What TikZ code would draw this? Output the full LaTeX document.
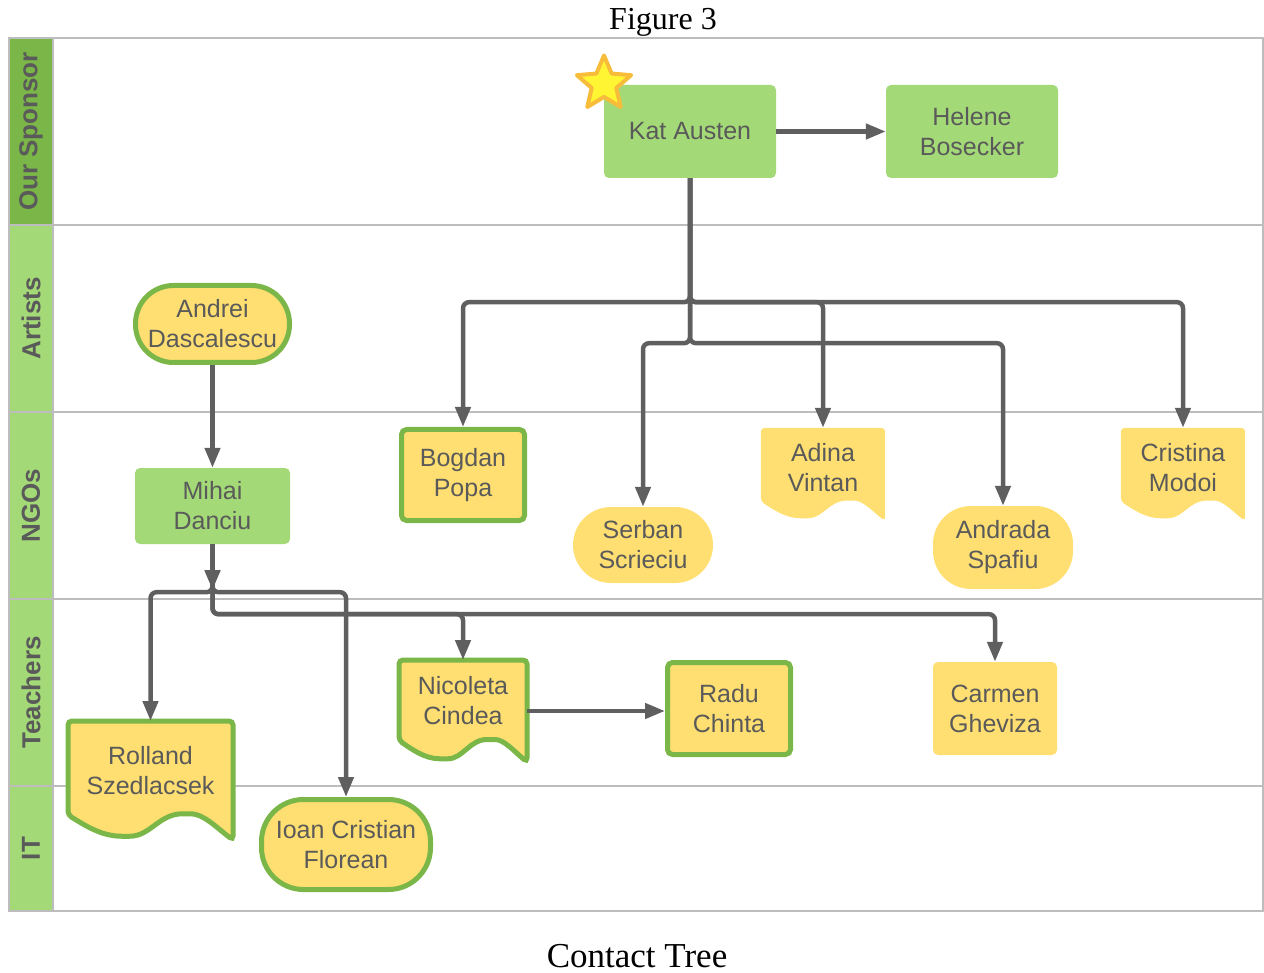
\documentclass[tikz,border=0pt]{standalone}
\usepackage{fontspec}
\setmainfont{Liberation Sans}
\newfontfamily\titlefont{Liberation Serif}
\usetikzlibrary{arrows.meta,shapes.geometric,calc,decorations.markings}
\definecolor{leaf}{HTML}{A3D977}
\definecolor{moss}{HTML}{7AB648}
\definecolor{butter}{HTML}{FFDF71}
\definecolor{ink}{HTML}{5A5A5A}
\definecolor{wire}{HTML}{5F5F5F}
\definecolor{grid}{HTML}{BDBDBD}
\definecolor{starfill}{HTML}{FFF533}
\definecolor{staredge}{HTML}{F8BC3B}
\pgfdeclarelayer{lanes}
\pgfdeclarelayer{shapes}
\pgfsetlayers{lanes,shapes,main}
\tikzset{
  person/.style={align=center, text=ink, font=\fontsize{25}{30}\selectfont, inner sep=0pt},
  sponsor/.style={person, fill=leaf, rounded corners=5pt},
  contact/.style={person, fill=butter, rounded corners=5pt},
  stadium/.style={person, fill=butter, rounded corners=38pt},
  known/.style={draw=moss, line width=5pt},
  docbox/.style={inner sep=0pt},
  link/.style={draw=wire, line width=4.5pt, rounded corners=6pt, -{Triangle[length=20pt,width=15pt]}},
  midtip/.style={postaction={decorate}, decoration={markings, mark=at position 46pt with {\arrow{Triangle[length=20pt,width=15pt]}}}},
  lane/.style={font=\bfseries\fontsize{26}{30}\selectfont, text=ink, rotate=90},
}
\newcommand\docshape[2]{%
  \begin{pgfonlayer}{shapes}
    \path[rounded corners=4pt, #2] let \p1=(#1.south west), \p2=(#1.north east),
      \n1={\x2-\x1}, \n2={0.21*(\y2-\y1)} in
      (\x1,{\y1+\n2}) -- (\x1,\y2) -- (\x2,\y2) -- (\x2,\y1)
      .. controls ({\x2-0.1*\n1},{\y1+0.5*\n2}) and ({\x2-0.18*\n1},{\y1+1.05*\n2}) .. ({\x1+0.72*\n1},{\y1+1.05*\n2})
      .. controls ({\x1+0.55*\n1},{\y1+1.05*\n2}) and ({\x1+0.5*\n1},{\y1+0.15*\n2}) .. ({\x1+0.35*\n1},{\y1+0.15*\n2})
      .. controls ({\x1+0.2*\n1},{\y1+0.15*\n2}) and ({\x1+0.1*\n1},{\y1+0.6*\n2}) .. cycle;
  \end{pgfonlayer}}
\begin{document}
\begin{tikzpicture}[x=1pt, y=-1pt]
    \useasboundingbox (0,0) rectangle (1264,973);

    \begin{pgfonlayer}{lanes}
        \fill[moss] (9,38) rectangle (53,225);
        \fill[leaf] (9,225) rectangle (53,911);
        \draw[grid, line width=1.5pt] (9,38) rectangle (1263,911);
        \foreach \y in {225,412,599,786}
            \draw[grid, line width=1.5pt] (9,\y) -- (1263,\y);
        \draw[grid, line width=1.5pt] (53,38) -- (53,911);
    \end{pgfonlayer}

    \node[lane] (sponsorlane) at (31,131.5) {Our Sponsor};
    \node[lane] (artistlane) at (31,318.5) {Artists};
    \node[lane] (ngolane) at (31,505.5) {NGOs};
    \node[lane] (teacherlane) at (31,692.5) {Teachers};
    \node[lane] (itlane) at (31,848.5) {IT};

    \node[font=\titlefont\fontsize{32}{36}\selectfont] (title) at (663,22) {Figure 3};
    \node[font=\titlefont\fontsize{35}{40}\selectfont] (caption) at (637,956) {Contact Tree};

    \node[sponsor, minimum width=172pt, minimum height=93pt] (kat) at (690,131.5) {Kat Austen};
    \node[sponsor, minimum width=172pt, minimum height=93pt] (helene) at (972,131.5) {Helene\\Bosecker};
    \node[star, star points=5, star point ratio=2.2, minimum size=57pt, inner sep=0pt,
          fill=starfill, draw=staredge, line width=4pt, line join=round] (star) at (604,84) {};

    \node[stadium, known, minimum width=154pt, minimum height=77pt] (andrei) at (212.5,324) {Andrei\\Dascalescu};
    \node[sponsor, minimum width=155pt, minimum height=76pt] (mihai) at (212.5,506) {Mihai\\Danciu};
    \node[contact, known, minimum width=123pt, minimum height=91pt] (bogdan) at (463,475) {Bogdan\\Popa};
    \node[stadium, minimum width=140pt, minimum height=76pt] (serban) at (643,545) {Serban\\Scrieciu};
    \node[stadium, minimum width=140pt, minimum height=83pt] (andrada) at (1003,547.5) {Andrada\\Spafiu};
    \node[stadium, known, rounded corners=42pt, minimum width=169pt, minimum height=90pt] (ioan) at (346,844.5) {Ioan Cristian\\Florean};
    \node[contact, known, minimum width=123pt, minimum height=92pt] (radu) at (729,708.5) {Radu\\Chinta};
    \node[contact, minimum width=124pt, minimum height=93pt] (carmen) at (995,708.5) {Carmen\\Gheviza};

    \node[docbox, minimum width=124pt, minimum height=93pt, label={[person, yshift=7pt]center:Adina\\Vintan}] (adina) at (823,474.5) {};
    \node[docbox, minimum width=124pt, minimum height=93pt, label={[person, yshift=7pt]center:Cristina\\Modoi}] (cristina) at (1183,474.5) {};
    \node[docbox, outer sep=2.5pt, minimum width=123pt, minimum height=97pt, label={[person, yshift=10pt]center:Nicoleta\\Cindea}] (nicoleta) at (463,711) {};
    \node[docbox, outer sep=2.5pt, minimum width=160pt, minimum height=114pt, label={[person, yshift=9.5pt]center:Rolland\\Szedlacsek}] (rolland) at (150.5,780.5) {};
    \docshape{adina}{fill=butter}
    \docshape{cristina}{fill=butter}
    \docshape{nicoleta}{fill=butter, draw=moss, line width=5pt}
    \docshape{rolland}{fill=butter, draw=moss, line width=5pt}

    \draw[link] (kat.east) -- (helene.west);
    \draw[link] (kat.south) -- ++(0,124) -| (bogdan.north);
    \draw[link] (kat.south) -- ++(0,124) -| (adina.north);
    \draw[link] (kat.south) -- ++(0,124) -| (cristina.north);
    \draw[link] (kat.south) -- ++(0,165) -| (serban.north);
    \draw[link] (kat.south) -- ++(0,165) -| (andrada.north);

    \draw[link] (andrei.south) -- (mihai.north);
    \draw[link] (mihai.south) -- ++(0,48) -| (rolland.north);
    \draw[link] (mihai.south) -- ++(0,48) -| (ioan.north);
    \draw[link, midtip] (mihai.south) -- ++(0,70) -| (nicoleta.north);
    \draw[link] (mihai.south) -- ++(0,70) -| (carmen.north);
    \draw[link] (nicoleta.east) -- (nicoleta.east -| radu.west);
\end{tikzpicture}
\end{document}
